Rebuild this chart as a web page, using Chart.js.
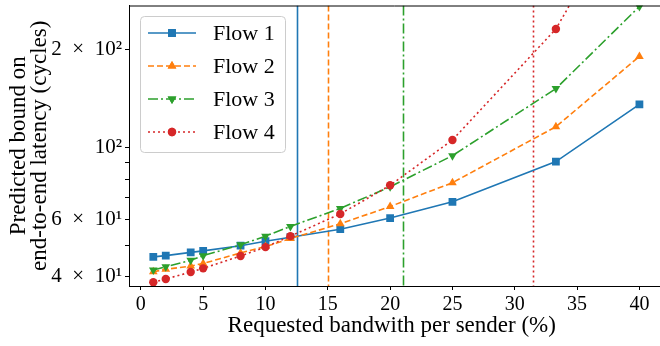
<!DOCTYPE html>
<html>
<head>
<meta charset="utf-8">
<script src="https://cdn.jsdelivr.net/npm/chart.js@4.4.0/dist/chart.umd.min.js"></script>
<style>
  html, body { margin: 0; padding: 0; background: #fff; }
  #wrap { width: 660px; height: 346px; }
</style>
</head>
<body>
<div id="wrap"><canvas id="chart" width="660" height="346"></canvas></div>
<script>
const bandwidth = [1, 2, 4, 5, 8, 10, 12, 16, 20, 25, 33.3, 40];
const flow1 = [46.1, 46.5, 47.6, 48.1, 49.9, 51.5, 53.0, 56.1, 60.7, 68.1, 90.6, 136];
const flow2 = [41.5, 42.2, 43.2, 44.0, 47.4, 49.6, 52.5, 58.3, 65.9, 78.0, 116, 191];
const flow3 = [42.0, 43.0, 45.0, 46.5, 50.2, 53.4, 57.2, 65.0, 75.8, 94.5, 152, 272];
const flow4 = [38.5, 39.4, 41.4, 42.5, 46.4, 49.4, 53.4, 62.5, 76.6, 105.6, 232, 650];
const flowNames = ['Flow 1', 'Flow 2', 'Flow 3', 'Flow 4'];
const limits = [12.5, 15, 21, 31.5];   // saturation bandwidth per flow

const yTicks = [40, 50, 60, 70, 80, 90, 100, 200];
const yTickLabels = { 40: '4\u2002×\u200210¹', 60: '6\u2002×\u200210¹', 100: '10²', 200: '2\u2002×\u200210²' };
const xTicks = [0, 5, 10, 15, 20, 25, 30, 35, 40];

const colors = ['#1f77b4', '#ff7f0e', '#2ca02c', '#d62728'];
const dashes = [[], [6, 3], [10, 3, 2, 3], [2, 3]];
const markers = ['rect', 'triangle', 'triangle', 'circle'];
const rotations = [0, 0, 180, 0];
const radii = [5.5, 5, 5, 4.2];
const FONT = '"Liberation Serif", "Times New Roman", serif';

const series = [flow1, flow2, flow3, flow4];

const datasets = series.map((vals, i) => ({
    label: flowNames[i],
    data: vals.map((v, j) => ({ x: bandwidth[j], y: v })),
    borderColor: colors[i],
    backgroundColor: colors[i],
    borderWidth: 1.6,
    borderDash: dashes[i],
    pointStyle: markers[i],
    pointRotation: rotations[i],
    pointRadius: radii[i],
    pointBorderWidth: 0,
    tension: 0,
    order: 4 - i
}));

const framePlugin = {
    id: 'frame',
    beforeDatasetsDraw(chart) {
        const { ctx, chartArea: a, scales: { x } } = chart;
        ctx.save();
        ctx.beginPath();
        ctx.rect(a.left, a.top, a.right - a.left, a.bottom - a.top);
        ctx.clip();
        limits.forEach((lim, i) => {
            const px = Math.round(x.getPixelForValue(lim)) + 0.5;
            ctx.strokeStyle = colors[i];
            ctx.lineWidth = 1.6;
            ctx.setLineDash(dashes[i]);
            ctx.beginPath();
            ctx.moveTo(px, a.top);
            ctx.lineTo(px, a.bottom);
            ctx.stroke();
        });
        ctx.restore();
    },
    afterDraw(chart) {
        const { ctx, chartArea: a } = chart;
        ctx.save();
        // axes frame runs off the right edge, as in the original figure
        ctx.strokeStyle = '#000';
        ctx.lineWidth = 1;
        ctx.beginPath();
        ctx.moveTo(a.left, a.top + 0.5);
        ctx.lineTo(chart.width, a.top + 0.5);
        ctx.moveTo(a.left, a.bottom + 0.5);
        ctx.lineTo(chart.width, a.bottom + 0.5);
        ctx.stroke();

        // legend
        const bx = 140, by = 16, bw = 145, bh = 136;
        ctx.fillStyle = 'rgba(255,255,255,0.8)';
        ctx.strokeStyle = '#cccccc';
        ctx.lineWidth = 1;
        ctx.beginPath();
        ctx.roundRect(bx + 0.5, by + 0.5, bw, bh, 4);
        ctx.fill();
        ctx.stroke();
        flowNames.forEach((name, i) => {
            const y = 33 + i * 33;
            ctx.strokeStyle = colors[i];
            ctx.lineWidth = 1.6;
            ctx.setLineDash(dashes[i]);
            ctx.beginPath();
            ctx.moveTo(148, y);
            ctx.lineTo(196, y);
            ctx.stroke();
            ctx.setLineDash([]);
            ctx.fillStyle = colors[i];
            Chart.helpers.drawPoint(ctx, {
                pointStyle: markers[i], rotation: rotations[i],
                radius: radii[i], borderWidth: 0
            }, 172, y);
            ctx.fill();
            ctx.fillStyle = '#000';
            ctx.font = '22px ' + FONT;
            ctx.textBaseline = 'middle';
            ctx.fillText(name, 213, y + 1);
        });
        ctx.restore();
    }
};

new Chart(document.getElementById('chart'), {
    type: 'line',
    data: { datasets: datasets },
    options: {
        responsive: false,
        animation: false,
        layout: { padding: { top: 3, right: 0, left: 0, bottom: 0 } },
        plugins: { legend: { display: false }, tooltip: { enabled: false } },
        scales: {
            x: {
                type: 'linear',
                min: -0.95,
                max: 41.21,
                afterBuildTicks: s => { s.ticks = xTicks.map(v => ({ value: v })); },
                afterFit: s => { s.height = 60; s.paddingLeft = 0; s.paddingRight = 0; },
                grid: { drawOnChartArea: false, tickLength: 4, color: '#000' },
                border: { color: '#000' },
                ticks: { color: '#000', font: { family: FONT, size: 20 }, padding: 3, maxRotation: 0 },
                title: {
                    display: true,
                    text: 'Requested bandwith per sender (%)',
                    color: '#000',
                    font: { family: FONT, size: 23 },
                    padding: { top: 0, bottom: 6 }
                }
            },
            y: {
                type: 'logarithmic',
                min: 37.5,
                max: 274,
                afterBuildTicks: s => { s.ticks = yTicks.map(v => ({ value: v })); },
                afterFit: s => { s.width = 129; s.paddingTop = 0; s.paddingBottom = 0; },
                grid: { drawOnChartArea: false, tickLength: 4, color: '#000' },
                border: { color: '#000' },
                ticks: {
                    color: '#000',
                    font: { family: FONT, size: 21 },
                    padding: 3,
                    autoSkip: false,
                    callback: v => yTickLabels[v] || ''
                },
                title: {
                    display: true,
                    text: ['Predicted bound on', 'end-to-end latency (cycles)'],
                    color: '#000',
                    font: { family: FONT, size: 23, lineHeight: 0.92 },
                    padding: { top: 8, bottom: 0 }
                }
            }
        }
    },
    plugins: [framePlugin]
});
</script>
</body>
</html>
